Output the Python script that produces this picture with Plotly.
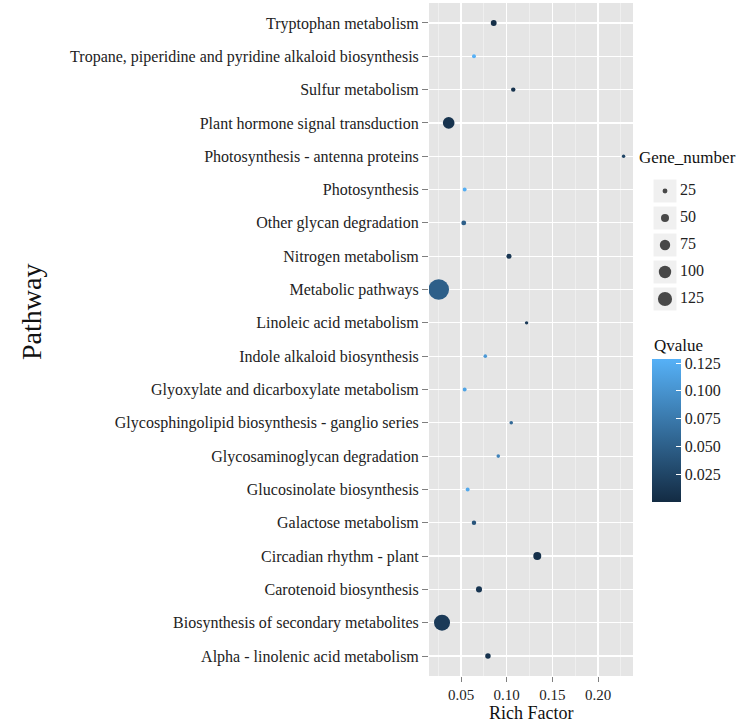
import math
import plotly.graph_objects as go

W, H = 746, 726

# ---- data (bottom-to-top order on the y axis) ----
pathways = [
    "Alpha - linolenic acid metabolism",
    "Biosynthesis of secondary metabolites",
    "Carotenoid biosynthesis",
    "Circadian rhythm - plant",
    "Galactose metabolism",
    "Glucosinolate biosynthesis",
    "Glycosaminoglycan degradation",
    "Glycosphingolipid biosynthesis - ganglio series",
    "Glyoxylate and dicarboxylate metabolism",
    "Indole alkaloid biosynthesis",
    "Linoleic acid metabolism",
    "Metabolic pathways",
    "Nitrogen metabolism",
    "Other glycan degradation",
    "Photosynthesis",
    "Photosynthesis - antenna proteins",
    "Plant hormone signal transduction",
    "Sulfur metabolism",
    "Tropane, piperidine and pyridine alkaloid biosynthesis",
    "Tryptophan metabolism",
]
rich_factor = [0.0795, 0.0292, 0.0697, 0.1335, 0.0642, 0.0573, 0.0908, 0.105,
               0.054, 0.0766, 0.1218, 0.0256, 0.1025, 0.053, 0.054, 0.228,
               0.0365, 0.1072, 0.0642, 0.0858]
gene_number = [29, 154, 33, 50, 22, 19, 17, 17, 19, 17, 16, 240, 26, 25, 19,
               16, 90, 22, 19, 32]
qvalue = [0.008, 0.015, 0.010, 0.005, 0.040, 0.120, 0.085, 0.060, 0.115,
          0.105, 0.015, 0.050, 0.012, 0.050, 0.125, 0.025, 0.008, 0.008,
          0.128, 0.004]

size_breaks = [25, 50, 75, 100, 125]
q_ticks = [0.025, 0.050, 0.075, 0.100, 0.125]
x_ticks = [0.05, 0.10, 0.15, 0.20]
x_ticktext = ["0.05", "0.10", "0.15", "0.20"]


def diam(n):
    return 1.5 * math.sqrt(n) - 2.6


def px(x):
    return x / W


def py(y):
    return (H - y) / H


FONT = "Liberation Serif"
colorscale = [[0, "#132B43"], [1, "#56B1F7"]]
PANEL = "#E5E5E5"

fig = go.Figure()

fig.add_trace(go.Scatter(
    x=rich_factor, y=pathways, mode="markers",
    marker=dict(size=[diam(n) for n in gene_number], color=qvalue,
                colorscale=colorscale, cmin=0.0003, cmax=0.1286,
                line=dict(width=0), opacity=1,
                colorbar=dict(x=px(652), xanchor="left", xpad=0,
                              y=py(359), yanchor="top", ypad=0,
                              len=143, lenmode="pixels", thickness=29,
                              outlinewidth=0, tickvals=q_ticks,
                              tickformat=".3f", ticks="inside",
                              tickcolor="white", ticklen=5,
                              tickfont=dict(family=FONT, size=16, color="#222"))),
    showlegend=False, hoverinfo="skip"))

# size legend (inset axes, pixel coordinates)
key_y = [191 + 27 * i for i in range(len(size_breaks))]
fig.add_trace(go.Scatter(
    x=[665] * len(size_breaks), y=key_y, mode="markers",
    marker=dict(symbol="square", size=23, color="#F0F0F0", line=dict(width=0)),
    xaxis="x2", yaxis="y2", showlegend=False, hoverinfo="skip"))
fig.add_trace(go.Scatter(
    x=[665] * len(size_breaks), y=key_y, mode="markers",
    marker=dict(size=[diam(n) for n in size_breaks], color="black",
                line=dict(width=0)),
    xaxis="x2", yaxis="y2", showlegend=False, hoverinfo="skip"))
fig.add_trace(go.Scatter(
    x=[680] * len(size_breaks), y=key_y, mode="text",
    text=[str(v) for v in size_breaks], textposition="middle right",
    textfont=dict(family=FONT, size=16, color="#222"),
    xaxis="x2", yaxis="y2", showlegend=False, hoverinfo="skip"))

fig.update_layout(
    width=W, height=H,
    margin=dict(l=0, r=0, t=0, b=0),
    paper_bgcolor="white",
    plot_bgcolor="rgba(0,0,0,0)",
    font=dict(family=FONT, size=16, color="#222"),
    xaxis=dict(domain=[px(429), px(633)], range=[0.01496, 0.2383],
               tickvals=x_ticks, ticktext=x_ticktext,
               showgrid=True, gridcolor="white", gridwidth=1.2,
               zeroline=False, showline=False,
               ticks="outside", ticklen=5, tickcolor="#7F7F7F",
               tickfont=dict(family=FONT, size=15, color="#222"),
               minor=dict(tickvals=[0.025, 0.075, 0.125, 0.175, 0.225],
                          showgrid=True, gridcolor="#F4F4F4", gridwidth=0.7,
                          ticks=""),
               anchor="y"),
    yaxis=dict(domain=[py(676), py(3)], type="category",
               categoryorder="array", categoryarray=pathways,
               range=[-0.6, len(pathways) - 0.4],
               showgrid=True, gridcolor="white", gridwidth=1.2,
               zeroline=False, showline=False,
               ticks="outside", ticklen=6, tickcolor="#7F7F7F",
               tickfont=dict(family=FONT, size=16, color="#222"),
               anchor="x"),
    xaxis2=dict(domain=[px(646), 1.0], range=[646, 746], visible=False,
                anchor="y2", fixedrange=True),
    yaxis2=dict(domain=[py(330), py(170)], range=[330, 170], visible=False,
                anchor="x2", fixedrange=True),
    shapes=[dict(type="rect", xref="x domain", yref="y domain",
                 x0=0, x1=1, y0=0, y1=1, fillcolor=PANEL,
                 line=dict(width=0), layer="below")],
    annotations=[
        dict(text="Pathway", x=px(31), y=py(312), xref="paper", yref="paper",
             xanchor="center", yanchor="middle", textangle=-90,
             showarrow=False, font=dict(family=FONT, size=28, color="#111")),
        dict(text="Rich Factor", x=px(531), y=py(713), xref="paper", yref="paper",
             xanchor="center", yanchor="middle",
             showarrow=False, font=dict(family=FONT, size=18, color="#111")),
        dict(text="Gene_number", x=px(637), y=py(157), xref="paper", yref="paper",
             xanchor="left", yanchor="middle",
             showarrow=False, font=dict(family=FONT, size=17, color="#111")),
        dict(text="Qvalue", x=px(652), y=py(345), xref="paper", yref="paper",
             xanchor="left", yanchor="middle",
             showarrow=False, font=dict(family=FONT, size=17, color="#111")),
    ],
)

fig.write_html(
    "out.html",
    config={"displayModeBar": False, "staticPlot": True},
    post_script="document.body.style.margin='0';document.body.style.overflow='hidden';",
)
